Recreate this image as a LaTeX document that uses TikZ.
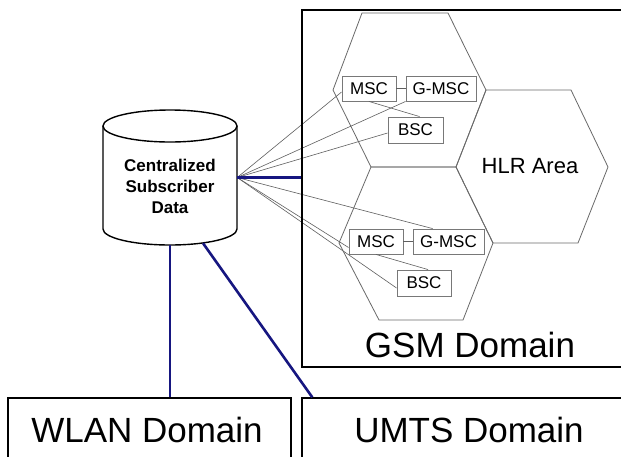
\documentclass[tikz,border=0pt]{standalone}
\usepackage{fontspec}
\setmainfont{Liberation Sans}
\usetikzlibrary{calc}
\definecolor{navy}{RGB}{22,22,128}
\definecolor{hexgray}{RGB}{105,105,105}
\definecolor{boxgray}{RGB}{120,120,120}
\definecolor{fangray}{RGB}{95,95,95}
\begin{document}
\begin{tikzpicture}[x=1pt,y=1pt,
  bigbox/.style={draw=black, line width=1.4pt, inner sep=0pt},
  biglabel/.style={font=\fontsize{35}{40}\selectfont, inner sep=0pt},
  hex/.style={draw=hexgray, line width=0.8pt},
  smallbox/.style={draw=boxgray, line width=0.9pt, fill=white, inner sep=0pt, font=\fontsize{17}{20}\selectfont},
  fan/.style={draw=fangray, line width=0.6pt},
  link/.style={draw=navy, line width=2.6pt},
  cyl/.style={draw=black, line width=1.4pt}]
\clip (0,0) rectangle (621,-456);
\fill[white] (0,0) rectangle (621,-456);

% hexagons
\draw[hex] (362,-13) -- (448,-13) -- (486,-90) -- (456,-167) -- (371,-167) -- (333,-90) -- cycle;
\draw[hex] (486,-90) -- (571,-90) -- (608,-167) -- (578,-243) -- (493,-243) -- (456,-167) -- cycle;
\draw[hex] (371,-167) -- (456,-167) -- (493,-243) -- (463,-320) -- (379,-320) -- (339,-243) -- cycle;

% cylinder anchor node
\node[minimum width=134pt, minimum height=135pt, inner sep=0pt] (csd) at (170,-177.5) {};

% small boxes
\node[smallbox, minimum width=54pt, minimum height=25pt] (msc1) at (369,-88.5) {MSC};
\node[smallbox, minimum width=70pt, minimum height=25pt] (gmsc1) at (441,-88.5) {G-MSC};
\node[smallbox, minimum width=55pt, minimum height=26pt] (bsc1) at (415.5,-130) {BSC};
\node[smallbox, minimum width=54pt, minimum height=25pt] (msc2) at (376,-241.5) {MSC};
\node[smallbox, minimum width=71pt, minimum height=25pt] (gmsc2) at (448.5,-241.5) {G-MSC};
\node[smallbox, minimum width=54pt, minimum height=26pt] (bsc2) at (424,-283) {BSC};

% fan lines
\draw[fan] (csd.east) -- ($(msc1.west)+(0,-3.5)$);
\draw[fan] (csd.east) -- (gmsc1.south west);
\draw[fan] (csd.east) -- ($(bsc1.west)+(0,-3)$);
\draw[fan] (csd.east) -- ($(gmsc2.north west)+(20,0)$);
\draw[fan] (csd.east) -- ($(msc2.west)+(0,-6)$);
\draw[fan] (csd.east) -- ($(bsc2.west)+(0,-5)$);

% box connectors
\draw[fan] (msc1.east) -- (gmsc1.west);
\draw[fan] (msc1.south) -- ($(bsc1.north)+(4,0)$);
\draw[fan] (msc2.east) -- (gmsc2.west);
\draw[fan] (msc2.south) -- ($(bsc2.north)+(4,0)$);

% cylinder
\draw[cyl, fill=white] (103,-126) -- (103,-229) arc[start angle=180, end angle=360, x radius=67, y radius=16] -- (237,-126);
\draw[cyl, fill=white] (170,-126) ellipse[x radius=67, y radius=16];
\node[font=\fontsize{17}{21}\selectfont\bfseries, align=center, inner sep=0pt] (csdtext) at (170,-186) {Centralized\\Subscriber\\Data};

% domain boxes
\node[bigbox, minimum width=340pt, minimum height=357pt] (gsm) at (472,-188.5) {};
\node[bigbox, minimum width=283pt, minimum height=80pt] (wlan) at (149.5,-438) {};
\node[bigbox, minimum width=340pt, minimum height=80pt] (umts) at (472,-438) {};

% blue links
\draw[link] (csd.east) -- (csd.east -| gsm.west);
\draw[link] (csd.south) -- (csd.south |- wlan.north);
\draw[link] ($(csd.south)+(33,2)$) -- ($(umts.north west)+(11,0)$);

% labels
\node[font=\fontsize{22}{26}\selectfont, inner sep=0pt] (hlr) at (530,-166) {HLR Area};
\node[biglabel] (gsmlabel) at (470,-344.5) {GSM Domain};
\node[biglabel] (wlanlabel) at (147,-430) {WLAN Domain};
\node[biglabel] (umtslabel) at (469,-430) {UMTS Domain};
\end{tikzpicture}
\end{document}
